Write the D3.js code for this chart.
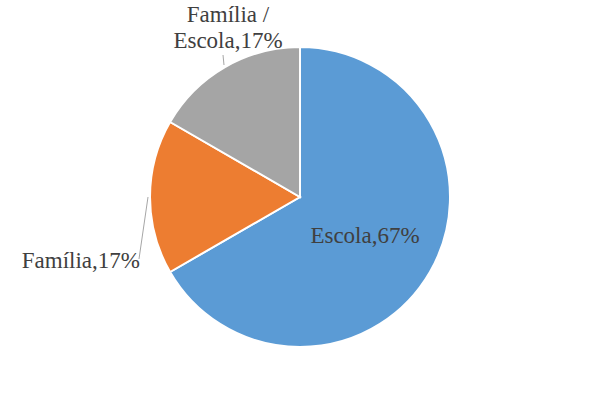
<!DOCTYPE html>
<html>
<head>
<meta charset="utf-8">
<script src="https://d3js.org/d3.v7.min.js"></script>
<style>
body { margin: 0; background: #fff; }
svg text { font-family: "Liberation Serif", "Times New Roman", serif; font-size: 23px; fill: #404040; }
</style>
</head>
<body>
<div id="chart"></div>
<script>

var categories = ['Escola', 'Família', 'Família / Escola'],
    values = [4, 1, 1],
    colors = ['#5b9bd5', '#ed7d31', '#a5a5a5'];

var width = 600, height = 394,
    cx = 300, cy = 197, radius = 150;

var svg = d3.select('#chart').append('svg')
  .attr('width', width)
  .attr('height', height);

var pie = d3.pie().sort(null)(values);
var arc = d3.arc().innerRadius(0).outerRadius(radius);
var total = d3.sum(values);
var pct = function(v) { return Math.round(v / total * 100) + '%'; };

var g = svg.append('g').attr('transform', 'translate(' + cx + ',' + cy + ')');

g.selectAll('path')
  .data(pie)
  .enter()
  .append('path')
  .attr('d', arc)
  .attr('fill', function(d, i) { return colors[i]; })
  .attr('stroke', '#fff')
  .attr('stroke-width', 2);

// Escola label inside the slice
svg.append('text')
  .attr('x', 365).attr('y', 243)
  .attr('text-anchor', 'middle')
  .text(categories[0] + ',' + pct(values[0]));

// Família label with leader line
svg.append('line')
  .attr('x1', 139).attr('y1', 259)
  .attr('x2', 148).attr('y2', 197)
  .attr('stroke', '#a6a6a6').attr('stroke-width', 1);

svg.append('text')
  .attr('x', 140).attr('y', 268)
  .attr('text-anchor', 'end')
  .text(categories[1] + ',' + pct(values[1]));

// Família / Escola label with leader line
svg.append('line')
  .attr('x1', 223).attr('y1', 55)
  .attr('x2', 224).attr('y2', 65)
  .attr('stroke', '#a6a6a6').attr('stroke-width', 1);

var parts = categories[2].split(' / ');
var t = svg.append('text').attr('text-anchor', 'middle');
t.append('tspan').attr('x', 228).attr('y', 22).text(parts[0] + ' /');
t.append('tspan').attr('x', 228).attr('y', 48).text(parts[1] + ',' + pct(values[2]));

</script>
</body>
</html>
